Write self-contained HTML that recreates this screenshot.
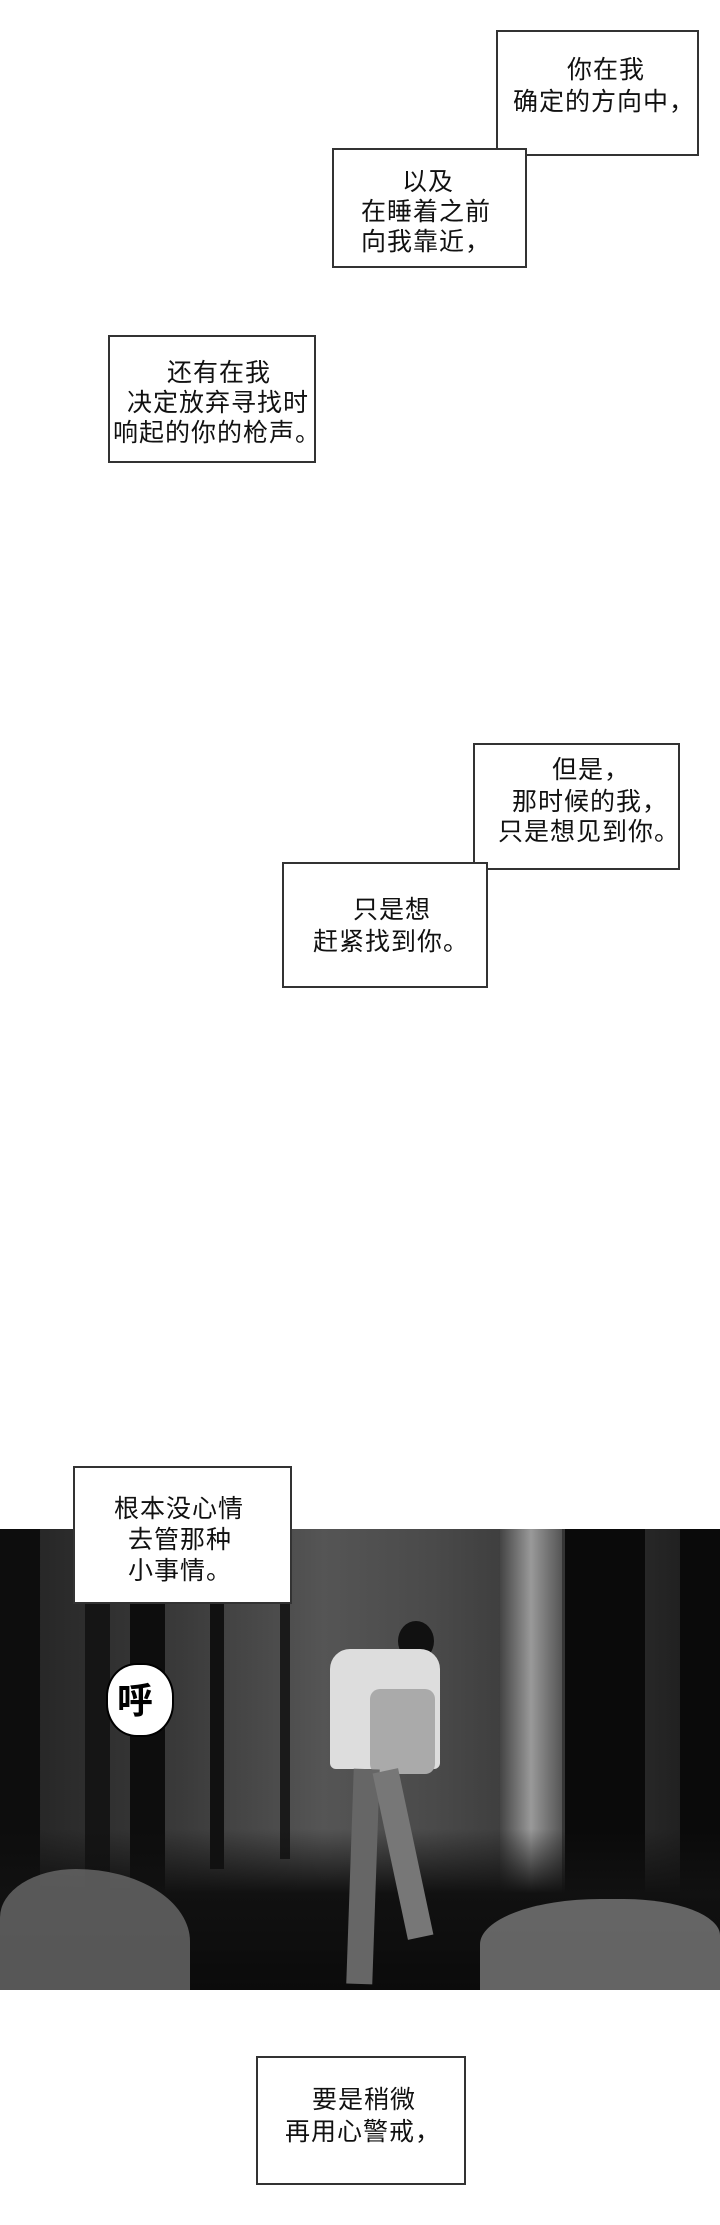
<!DOCTYPE html>
<html><head><meta charset="utf-8"><style>
html,body{margin:0;padding:0;background:#fff;}
body{width:720px;height:2225px;position:relative;overflow:hidden;font-family:"Liberation Sans","Noto Sans CJK SC",sans-serif;}
.b{position:absolute;border:2px solid #333;background:#fff;box-sizing:border-box;}
.t{position:absolute;font-size:25px;line-height:30px;letter-spacing:1px;color:#111;white-space:nowrap;}
.panel{position:absolute;left:0;top:1529px;width:720px;height:461px;background:linear-gradient(90deg,#222 0%,#3a3a3a 25%,#555 45%,#4a4a4a 60%,#333 80%,#1a1a1a 100%);overflow:hidden;}
.tr{position:absolute;top:0;background:#0d0d0d;}
</style></head><body>
<div class="b" style="left:496px;top:30px;width:203px;height:126px"></div>
<div class="b" style="left:332px;top:148px;width:195px;height:120px"></div>
<div class="t" style="left:567px;top:55px">你在我</div>
<div class="t" style="left:513px;top:87px">确定的方向中，</div>
<div class="t" style="left:402px;top:167px">以及</div>
<div class="t" style="left:361px;top:197px">在睡着之前</div>
<div class="t" style="left:361px;top:227px">向我靠近，</div>

<div class="b" style="left:108px;top:335px;width:208px;height:128px"></div>
<div class="t" style="left:167px;top:358px">还有在我</div>
<div class="t" style="left:127px;top:388px">决定放弃寻找时</div>
<div class="t" style="left:113px;top:418px">响起的你的枪声。</div>

<div class="b" style="left:473px;top:743px;width:207px;height:127px"></div>
<div class="b" style="left:282px;top:862px;width:206px;height:126px"></div>
<div class="t" style="left:552px;top:755px">但是，</div>
<div class="t" style="left:512px;top:787px">那时候的我，</div>
<div class="t" style="left:498px;top:817px">只是想见到你。</div>
<div class="t" style="left:353px;top:895px">只是想</div>
<div class="t" style="left:313px;top:927px">赶紧找到你。</div>

<div class="panel">
<div class="tr" style="left:0;width:40px;height:461px"></div>
<div class="tr" style="left:85px;width:25px;height:380px;background:#151515"></div>
<div class="tr" style="left:130px;width:35px;height:370px"></div>
<div class="tr" style="left:210px;width:14px;height:340px;background:#111"></div>
<div class="tr" style="left:280px;width:10px;height:330px;background:#1a1a1a"></div>
<div class="tr" style="left:500px;width:62px;height:380px;background:linear-gradient(90deg,#444,#999,#555)"></div>
<div class="tr" style="left:565px;width:80px;height:400px;background:#0a0a0a"></div>
<div class="tr" style="left:680px;width:40px;height:461px;background:#0a0a0a"></div>
<div style="position:absolute;left:0;top:300px;width:720px;height:161px;background:linear-gradient(180deg,rgba(0,0,0,0),#111 40%,#0b0b0b)"></div>
<div style="position:absolute;left:0;top:340px;width:190px;height:121px;background:#6a6a6a;border-radius:40% 60% 0 0;opacity:.8"></div>
<div style="position:absolute;left:480px;top:370px;width:240px;height:91px;background:#7a7a7a;border-radius:50% 40% 0 0;opacity:.8"></div>
<div style="position:absolute;left:398px;top:92px;width:36px;height:40px;background:#111;border-radius:50%"></div>
<div style="position:absolute;left:330px;top:120px;width:110px;height:120px;background:#ddd;border-radius:20px 20px 6px 6px"></div>
<div style="position:absolute;left:370px;top:160px;width:65px;height:85px;background:#aaa;border-radius:10px"></div>
<div style="position:absolute;left:350px;top:240px;width:26px;height:215px;background:#666;transform:rotate(2deg)"></div>
<div style="position:absolute;left:390px;top:240px;width:26px;height:170px;background:#777;transform:rotate(-12deg)"></div>
<div style="position:absolute;left:106px;top:134px;width:68px;height:74px;background:#fff;border:2px solid #000;border-radius:45%;box-sizing:border-box"></div>
<div style="position:absolute;left:117px;top:147px;font-size:36px;line-height:44px;font-weight:bold;color:#000;font-family:'Noto Sans CJK SC',sans-serif">呼</div>
</div>

<div class="b" style="left:73px;top:1466px;width:219px;height:138px"></div>
<div class="t" style="left:114px;top:1494px">根本没心情</div>
<div class="t" style="left:128px;top:1525px">去管那种</div>
<div class="t" style="left:128px;top:1556px">小事情。</div>

<div class="b" style="left:256px;top:2056px;width:210px;height:129px"></div>
<div class="t" style="left:312px;top:2085px">要是稍微</div>
<div class="t" style="left:285px;top:2117px">再用心警戒，</div>
</body></html>
